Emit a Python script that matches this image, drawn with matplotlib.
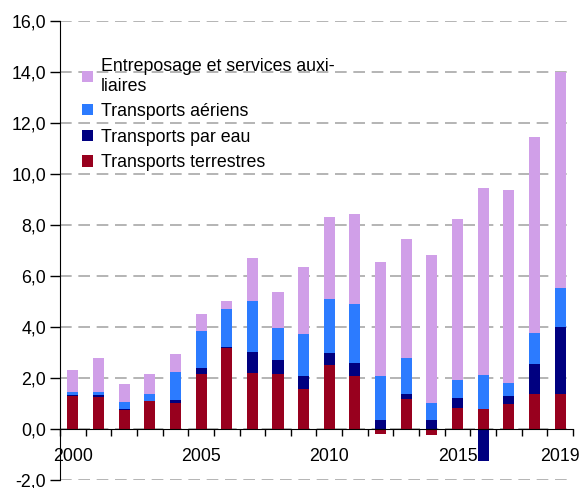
import matplotlib
matplotlib.use('Agg')
import matplotlib.pyplot as plt
import numpy as np

plt.rcParams['font.family'] = ['Liberation Sans', 'DejaVu Sans']
plt.rcParams['font.size'] = 12.8

annees = list(range(2000, 2020))
terrestres = [1.28, 1.24, 0.73, 1.11, 1.00, 2.17, 3.19, 2.20, 2.17, 1.58,
              2.52, 2.09, -0.18, 1.19, -0.22, 0.83, 0.80, 0.99, 1.38, 1.38]
eau = [0.04, 0.08, 0.04, 0.0, 0.14, 0.22, 0.04, 0.82, 0.53, 0.51,
       0.47, 0.51, 0.37, 0.20, 0.37, 0.39, -1.27, 0.31, 1.17, 2.62]
aeriens = [0.12, 0.15, 0.27, 0.25, 1.09, 1.44, 1.47, 1.99, 1.25, 1.64,
           2.11, 2.31, 1.72, 1.41, 0.66, 0.70, 1.33, 0.51, 1.21, 1.53]
entreposage = [0.89, 1.32, 0.73, 0.81, 0.70, 0.66, 0.31, 1.68, 1.41, 2.62,
               3.21, 3.52, 4.46, 4.65, 5.79, 6.30, 7.31, 7.55, 7.71, 8.46]

series = [
    ('Transports terrestres', terrestres, '#98001E'),
    ('Transports par eau', eau, '#000080'),
    ('Transports aériens', aeriens, '#2C7BFF'),
    ('Entreposage et services auxi-\nliaires', entreposage, '#D09FE8'),
]

fig = plt.figure(figsize=(5.8, 4.88), dpi=100)
ax = fig.add_axes([0.1034, 0.0164, 0.8845, 0.9406])

x = np.arange(len(annees))
pos_bottom = np.zeros(len(annees))
neg_bottom = np.zeros(len(annees))
bars = []
for nom, vals, couleur in series:
    v = np.array(vals)
    bottom = np.where(v >= 0, pos_bottom, neg_bottom)
    b = ax.bar(x, v, 0.43, bottom=bottom, color=couleur, label=nom, zorder=3)
    bars.append(b)
    pos_bottom += np.where(v >= 0, v, 0)
    neg_bottom += np.where(v < 0, v, 0)

ax.set_xlim(-0.5, len(annees) - 0.5)
ax.set_ylim(-2, 16)
ax.set_yticks(np.arange(-2, 17, 2))
ax.set_yticklabels([('%.1f' % t).replace('.', ',') for t in np.arange(-2, 17, 2)])
ax.yaxis.grid(True, color='#a8a8a8', linestyle=(0, (7, 4)), linewidth=1.2, zorder=0)
ax.tick_params(axis='y', length=7, width=1, pad=3)

for s in ['top', 'right']:
    ax.spines[s].set_visible(False)
ax.spines['bottom'].set_position(('data', 0))
ax.spines['bottom'].set_zorder(4)

lab_pos = [0, 5, 10, 15, 19]
ax.set_xticks(lab_pos)
ax.set_xticklabels([str(annees[i]) for i in lab_pos])
ax.set_xticks(np.arange(-0.5, len(annees), 1), minor=True)
ax.tick_params(axis='x', which='major', length=0, pad=14)
ax.tick_params(axis='x', which='minor', length=5, width=1)

handles = bars[::-1]
labels = [s[0] for s in series][::-1]
ax.legend(handles, labels, loc='upper left', bbox_to_anchor=(0.03, 0.935),
          frameon=False, handlelength=0.6, handleheight=0.6, handletextpad=0.45,
          labelspacing=0.48, borderaxespad=0)

fig.savefig('out.png', dpi=100)
